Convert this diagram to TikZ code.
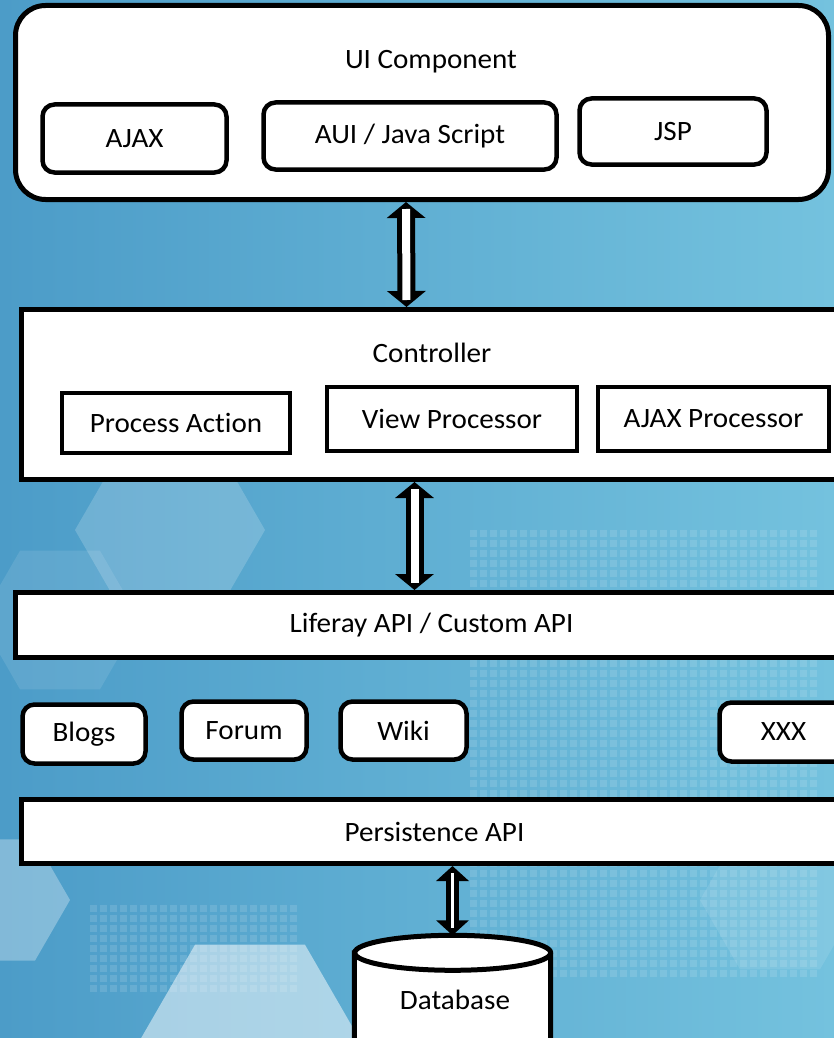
\documentclass[tikz,border=0pt]{standalone}
\usepackage{fontspec}
\setmainfont{Carlito}[FakeStretch=1.04, Ligatures={NoCommon}]
\usetikzlibrary{positioning,arrows.meta}
\definecolor{bgleft}{RGB}{76,156,200}
\definecolor{bgmid}{RGB}{164,214,234}
\definecolor{bgright}{RGB}{116,194,222}
\tikzset{
    layer/.style = {
        draw,
        shape=rectangle,
        fill=white,
        inner sep=0pt,
        line width=5pt,
        font=\fontsize{28}{32}\selectfont
    },
    roundlayer/.style = {
        layer,
        rounded corners=30pt
    },
    part/.style = {
        draw,
        shape=rectangle,
        fill=white,
        inner sep=0pt,
        rounded corners=12pt,
        line width=4.5pt,
        font=\fontsize{28}{32}\selectfont
    },
    unit/.style = {
        draw,
        shape=rectangle,
        fill=white,
        inner sep=0pt,
        line width=4pt,
        font=\fontsize{28}{32}\selectfont
    },
    caption/.style = {
        inner sep=0pt,
        font=\fontsize{28}{32}\selectfont
    },
    store/.style = {
        draw,
        fill=white,
        line width=5pt
    },
    bigpipe/.style = {
        line width=18pt,
        {Triangle[width=38pt,length=16pt]}-{Triangle[width=38pt,length=16pt]}
    },
    smallpipe/.style = {
        line width=13pt,
        {Triangle[width=32pt,length=15pt]}-{Triangle[width=32pt,length=15pt]}
    },
    pipecore/.style = {
        draw=white,
        line width=8pt,
        shorten <=7pt,
        shorten >=7pt
    },
    pixel/.style = {fill=white, opacity=0.12},
}
\begin{document}
\begin{tikzpicture}[x=1pt,y=-1pt]
    \useasboundingbox (0,0) rectangle (834,1038);
    \clip (0,0) rectangle (834,1038);

    % backdrop
    \shade[left color=bgleft, middle color=bgmid, right color=bgright] (0,0) rectangle (834,1038);
    \foreach \cx/\cy/\r/\o in {170/530/95/0.18, 250/1040/110/0.5, 0/900/70/0.3,
                               60/620/80/0.1, 780/900/80/0.1}
        \fill[white, opacity=\o] (\cx,\cy) +(0:\r) -- +(60:\r) -- +(120:\r)
            -- +(180:\r) -- +(240:\r) -- +(300:\r) -- cycle;
    \foreach \i in {0,...,34}
        \foreach \j in {0,...,44}
            \fill[pixel] (470+10*\i,530+10*\j) rectangle +(7,7);
    \foreach \i in {0,...,20}
        \foreach \j in {0,...,8}
            \fill[pixel] (90+10*\i,905+10*\j) rectangle +(7,7);

    % UI layer
    \node[roundlayer, minimum width=813pt, minimum height=194pt] (ui) at (422,102.5) {};
    \node[caption] (uititle) at (431,62) {UI Component};
    \node[part, minimum width=184pt, minimum height=68pt] (ajax) at (134.5,138.5) {AJAX};
    \node[part, minimum width=293pt, minimum height=67pt] (aui) at (410,136) {AUI / Java Script};
    \node[part, minimum width=187pt, minimum height=66pt] (jsp) at (673,131.5) {JSP};

    % controller layer
    \node[layer, minimum width=826pt, minimum height=170pt] (ctrl) at (434.5,394.5) {};
    \node[caption] (ctrltitle) at (432,353) {Controller};
    \node[unit, minimum width=228pt, minimum height=60pt] (action) at (176,423) {Process Action};
    \node[unit, minimum width=250pt, minimum height=64pt] (view) at (452,419) {View Processor};
    \node[unit, minimum width=231pt, minimum height=64pt] (ajaxproc) at (713.5,419) {AJAX Processor};

    % api layer
    \node[layer, minimum width=832pt, minimum height=65pt] (api) at (431.5,625) {Liferay API / Custom API};

    % portlets
    \node[part, minimum width=123pt, minimum height=59pt] (blogs) at (84,734) {Blogs};
    \node[part, minimum width=125pt, minimum height=58pt] (forum) at (244,730.5) {Forum};
    \node[part, minimum width=126pt, minimum height=58pt] (wiki) at (403.5,730.5) {Wiki};
    \node[part, minimum width=128pt, minimum height=59pt] (xxx) at (783.5,732) {XXX};

    % persistence
    \node[layer, minimum width=826pt, minimum height=64pt] (persist) at (434.5,831.5) {Persistence API};
    \node[minimum width=196pt, minimum height=117pt, inner sep=0pt] (db) at (452.5,1011.5) {};
    \path[store] (db.north west) -- (db.south west) -- (db.south east) -- (db.north east)
        arc[start angle=0, end angle=180, x radius=98pt, y radius=17.5pt] -- cycle;
    \draw[store, fill=none] (db.north east) arc[start angle=0, end angle=-180, x radius=98pt, y radius=17.5pt];
    \node[caption] (dbtext) at (455,1000) {Database};

    % links
    \draw[bigpipe] ([xshift=-16pt]ui.south) -- ([xshift=-28pt]ctrl.north);
    \draw[pipecore] ([xshift=-16pt]ui.south) -- ([xshift=-28pt]ctrl.north);
    \draw[bigpipe] ([xshift=-20pt]ctrl.south) -- ([xshift=-17pt]api.north);
    \draw[pipecore] ([xshift=-20pt]ctrl.south) -- ([xshift=-17pt]api.north);
    \draw[smallpipe] ([xshift=18pt]persist.south) -- ([yshift=17.5pt]db.north);
    \draw[pipecore, line width=3.5pt] ([xshift=18pt]persist.south) -- ([yshift=17.5pt]db.north);
\end{tikzpicture}
\end{document}
